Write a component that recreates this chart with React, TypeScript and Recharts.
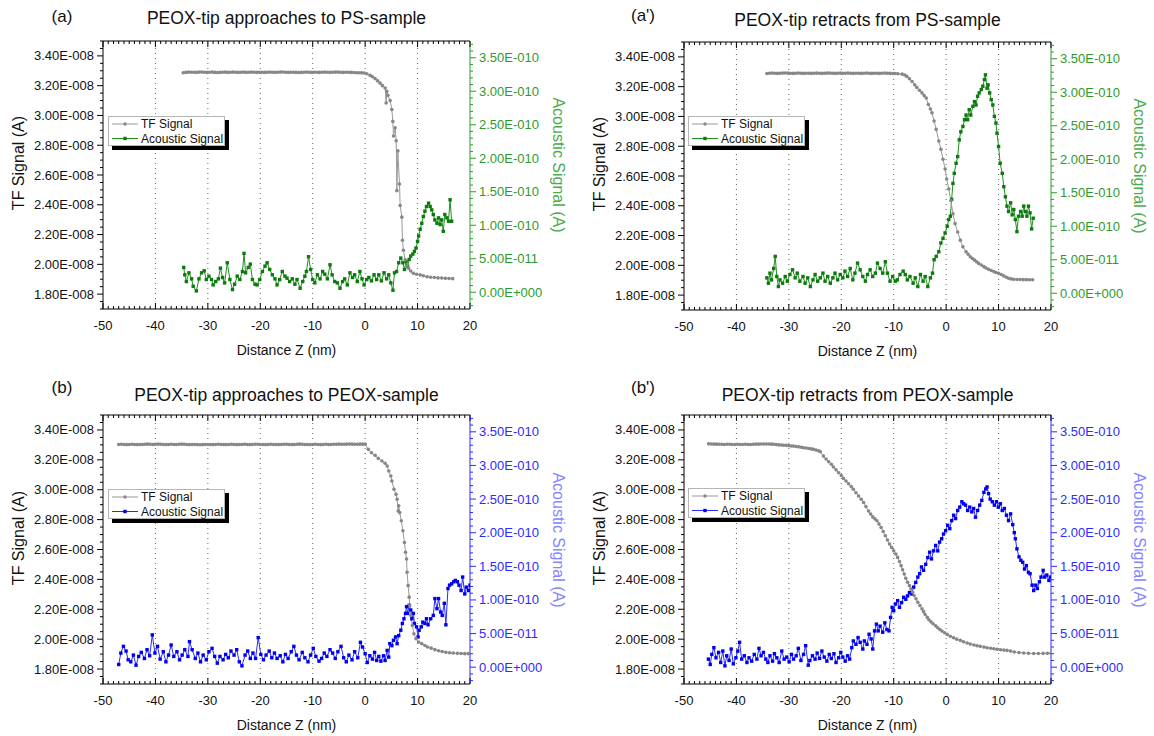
import { Line, LineChart, ReferenceLine, XAxis, YAxis } from 'recharts';

type Pt = [number, number];

const FONT = '"Liberation Sans", Arial, sans-serif';

// axis ticks (TF in 1E-8 A, acoustic in 1E-10 A)
const zMajor = [-50, -40, -30, -20, -10, 0, 10, 20];
const zGrid = [-40, -30, -20, -10, 0, 10];
const tfMajor = [1.8, 2.0, 2.2, 2.4, 2.6, 2.8, 3.0, 3.2, 3.4];
const acMajor = [0, 0.5, 1.0, 1.5, 2.0, 2.5, 3.0, 3.5];

const zTicks: number[] = [];
for (let i = -50; i <= 20; i++) zTicks.push(i);
const tfTicks: number[] = [];
for (let i = 34; i <= 70; i++) tfTicks.push(Math.round(i * 5) / 100);
const acTicks: number[] = [];
for (let i = -2; i <= 37; i++) acTicks.push(i / 10);

// (a) approach to PS
const tfA: Pt[] = [
  [-34.7,3.287],[-34.2,3.289],[-33.7,3.291],[-33.2,3.29],[-32.7,3.29],[-32.2,3.289],[-31.7,3.291],[-31.2,3.292],[-30.7,3.29],[-30.2,3.289],
  [-29.7,3.29],[-29.2,3.291],[-28.7,3.289],[-28.2,3.288],[-27.7,3.289],[-27.2,3.29],[-26.7,3.291],[-26.2,3.289],[-25.7,3.29],[-25.2,3.291],
  [-24.7,3.29],[-24.2,3.289],[-23.7,3.29],[-23.2,3.291],[-22.7,3.289],[-22.2,3.29],[-21.7,3.291],[-21.2,3.29],[-20.7,3.289],[-20.2,3.29],
  [-19.7,3.29],[-19.2,3.289],[-18.7,3.29],[-18.2,3.291],[-17.7,3.29],[-17.2,3.289],[-16.7,3.29],[-16.2,3.291],[-15.7,3.292],[-15.2,3.29],
  [-14.7,3.289],[-14.2,3.29],[-13.7,3.29],[-13.2,3.289],[-12.7,3.288],[-12.2,3.289],[-11.7,3.29],[-11.2,3.291],[-10.7,3.29],[-10.2,3.289],
  [-9.7,3.29],[-9.2,3.29],[-8.7,3.289],[-8.2,3.29],[-7.7,3.291],[-7.2,3.29],[-6.7,3.289],[-6.2,3.29],[-5.7,3.291],[-5.2,3.291],
  [-4.7,3.29],[-4.2,3.289],[-3.7,3.29],[-3.2,3.29],[-2.7,3.289],[-2.2,3.288],[-1.7,3.287],[-1.2,3.287],[-0.7,3.286],[-0.2,3.285],
  [0.3,3.28],[0.95,3.269],[1.4,3.26],[1.9,3.247],[2.4,3.232],[2.86,3.217],[3.3,3.2],[3.82,3.184],[4.0,3.084],[4.14,3.162],
  [4.33,3.135],[4.77,3.1],[5.09,3.04],[5.28,2.96],[5.41,2.862],[5.73,2.917],[5.92,2.83],[6.05,2.495],[6.24,2.762],[6.55,2.54],
  [6.68,2.395],[7.0,2.317],[7.12,2.162],[7.3,2.095],[7.63,2.03],[8.0,1.995],[8.27,1.973],[8.7,1.955],[9.2,1.94],[9.8,1.933],
  [10.5,1.929],[11.1,1.923],[11.8,1.917],[12.5,1.913],[13.2,1.912],[13.9,1.909],[14.6,1.908],[15.3,1.906],[16.0,1.905],[16.7,1.904],
];
const acA: Pt[] = [
  [-34.6,0.37],[-34.4,0.26],[-34.1,0.16],[-33.6,0.29],[-33.1,0.2],[-32.8,0.09],[-32.2,0.02],[-31.7,0.2],[-31.2,0.29],[-30.7,0.32],
  [-30.3,0.19],[-29.8,0.24],[-29.3,0.19],[-29.0,0.11],[-28.5,0.16],[-28.0,0.2],[-27.6,0.36],[-27.2,0.22],[-26.8,0.14],[-26.3,0.44],
  [-25.8,0.19],[-25.3,0.04],[-24.9,0.12],[-24.4,0.24],[-23.9,0.19],[-23.4,0.31],[-23.1,0.58],[-22.8,0.29],[-22.3,0.37],[-21.9,0.42],
  [-21.5,0.19],[-21.0,0.12],[-20.6,0.11],[-20.1,0.19],[-19.6,0.31],[-19.1,0.39],[-18.7,0.44],[-18.2,0.34],[-17.7,0.26],[-17.2,0.2],
  [-16.8,0.11],[-16.3,0.19],[-15.8,0.31],[-15.3,0.24],[-14.9,0.21],[-14.4,0.16],[-13.9,0.2],[-13.4,0.12],[-13.0,0.19],[-12.4,0.06],
  [-11.9,0.16],[-11.5,0.24],[-11.2,0.31],[-10.8,0.53],[-10.4,0.34],[-10.0,0.19],[-9.6,0.14],[-9.1,0.26],[-8.6,0.2],[-8.1,0.31],
  [-7.7,0.27],[-7.2,0.2],[-6.7,0.41],[-6.3,0.26],[-5.8,0.16],[-5.3,0.14],[-4.8,0.06],[-4.3,0.16],[-3.9,0.2],[-3.4,0.11],
  [-2.9,0.29],[-2.4,0.22],[-2.0,0.26],[-1.5,0.16],[-1.0,0.31],[-0.6,0.2],[-0.2,0.11],[0.3,0.19],[0.7,0.22],[1.2,0.17],
  [1.7,0.26],[2.2,0.19],[2.6,0.26],[3.1,0.17],[3.6,0.29],[4.1,0.2],[4.5,0.26],[4.9,0.14],[5.3,0.03],[5.6,0.29],
  [6.0,0.31],[6.4,0.44],[6.8,0.51],[7.2,0.44],[7.5,0.34],[7.8,0.46],[8.1,0.39],[8.4,0.49],[8.7,0.54],[9.1,0.57],
  [9.4,0.61],[9.7,0.66],[10.0,0.76],[10.2,0.84],[10.5,0.94],[10.8,1.03],[11.1,1.13],[11.4,1.21],[11.7,1.28],[12.1,1.33],
  [12.4,1.28],[12.7,1.23],[13.0,1.16],[13.3,1.08],[13.7,1.03],[14.0,1.11],[14.3,1.01],[14.6,1.08],[14.9,0.91],[15.2,1.16],
  [15.6,1.11],[15.9,1.06],[16.2,1.38],[16.5,1.06],
];

// (a') retract from PS
const tfA2: Pt[] = [
  [-34.2,3.288],[-33.7,3.29],[-33.2,3.291],[-32.7,3.29],[-32.2,3.289],[-31.7,3.29],[-31.2,3.291],[-30.7,3.292],[-30.2,3.291],[-29.7,3.29],
  [-29.2,3.289],[-28.7,3.29],[-28.2,3.291],[-27.7,3.29],[-27.2,3.289],[-26.7,3.29],[-26.2,3.29],[-25.7,3.289],[-25.2,3.29],[-24.7,3.291],
  [-24.2,3.29],[-23.7,3.289],[-23.2,3.29],[-22.7,3.291],[-22.2,3.291],[-21.7,3.29],[-21.2,3.289],[-20.7,3.29],[-20.2,3.291],[-19.7,3.29],
  [-19.2,3.29],[-18.7,3.291],[-18.2,3.29],[-17.7,3.289],[-17.2,3.29],[-16.7,3.29],[-16.2,3.289],[-15.7,3.29],[-15.2,3.291],[-14.7,3.29],
  [-14.2,3.289],[-13.7,3.29],[-13.2,3.29],[-12.7,3.289],[-12.2,3.29],[-11.7,3.291],[-11.2,3.29],[-10.7,3.289],[-10.2,3.288],[-9.7,3.288],
  [-9.2,3.287],[-8.4,3.284],[-7.9,3.278],[-7.5,3.269],[-7.0,3.253],[-6.5,3.235],[-6.0,3.213],[-5.6,3.195],[-5.1,3.176],[-4.6,3.158],
  [-4.2,3.14],[-3.8,3.124],[-3.4,3.08],[-3.0,3.05],[-2.7,3.024],[-2.3,2.969],[-1.9,2.913],[-1.4,2.835],[-1.0,2.78],[-0.6,2.713],
  [-0.2,2.647],[0.1,2.58],[0.5,2.513],[0.9,2.435],[1.3,2.346],[1.7,2.28],[2.2,2.224],[2.7,2.169],[3.2,2.124],[3.8,2.091],
  [4.2,2.074],[4.6,2.058],[5.0,2.046],[5.4,2.035],[5.8,2.024],[6.2,2.013],[6.7,2.002],[7.2,1.991],[7.6,1.982],[8.1,1.973],
  [8.6,1.965],[9.1,1.958],[9.5,1.952],[10.0,1.947],[10.5,1.938],[11.0,1.929],[11.5,1.92],[11.9,1.913],[12.4,1.909],[12.9,1.906],
  [13.5,1.905],[14.1,1.905],[14.7,1.904],[15.3,1.904],[15.9,1.903],[16.5,1.903],
];
const acA2: Pt[] = [
  [-34.2,0.23],[-33.9,0.15],[-33.6,0.3],[-33.3,0.2],[-32.9,0.37],[-32.6,0.55],[-32.3,0.25],[-32.0,0.1],[-31.7,0.2],[-31.2,0.15],
  [-30.7,0.25],[-30.3,0.18],[-29.8,0.28],[-29.3,0.35],[-28.8,0.23],[-28.4,0.3],[-27.9,0.18],[-27.3,0.25],[-26.9,0.15],[-26.4,0.23],
  [-25.9,0.1],[-25.4,0.2],[-25.0,0.28],[-24.5,0.18],[-24.0,0.23],[-23.5,0.3],[-23.1,0.18],[-22.6,0.25],[-22.1,0.15],[-21.6,0.23],
  [-21.2,0.3],[-20.7,0.2],[-20.2,0.28],[-19.7,0.23],[-19.3,0.33],[-18.8,0.25],[-18.3,0.37],[-17.8,0.2],[-17.4,0.3],[-16.9,0.45],
  [-16.4,0.35],[-15.9,0.25],[-15.4,0.18],[-15.0,0.28],[-14.5,0.35],[-14.0,0.25],[-13.5,0.3],[-13.1,0.45],[-12.6,0.37],[-12.1,0.3],
  [-11.6,0.47],[-11.2,0.3],[-10.7,0.18],[-10.2,0.25],[-9.7,0.18],[-9.3,0.2],[-8.8,0.28],[-8.2,0.33],[-7.8,0.28],[-7.4,0.2],
  [-6.9,0.25],[-6.3,0.15],[-5.9,0.23],[-5.4,0.1],[-4.9,0.28],[-4.4,0.18],[-4.0,0.25],[-3.5,0.1],[-3.0,0.23],[-2.6,0.3],
  [-2.3,0.5],[-1.9,0.55],[-1.4,0.62],[-1.0,0.75],[-0.6,0.82],[-0.2,0.9],[0.2,1.0],[0.5,1.1],[0.8,1.15],[1.05,1.4],
  [1.3,1.64],[1.55,1.79],[1.9,1.94],[2.2,2.04],[2.5,2.29],[2.8,2.41],[3.2,2.49],[3.5,2.59],[3.8,2.66],[4.1,2.59],
  [4.4,2.74],[4.7,2.66],[5.1,2.79],[5.4,2.86],[5.7,2.81],[6.0,2.94],[6.3,2.99],[6.7,3.04],[7.0,3.09],[7.3,3.19],
  [7.5,3.26],[7.8,3.06],[8.0,3.11],[8.3,2.99],[8.6,2.89],[8.9,2.81],[9.2,2.64],[9.5,2.54],[9.7,2.39],[10.0,2.19],
  [10.3,1.94],[10.7,1.79],[11.0,1.59],[11.3,1.44],[11.6,1.3],[11.9,1.22],[12.3,1.35],[12.6,1.17],[12.9,1.25],[13.2,1.1],
  [13.5,0.92],[13.8,1.15],[14.2,1.22],[14.5,1.15],[14.8,1.3],[15.1,1.22],[15.4,1.15],[15.7,1.3],[16.0,1.2],[16.3,0.96],
  [16.6,1.12],
];

// (b) approach to PEOX
const tfB: Pt[] = [
  [-47.0,3.303],[-46.5,3.304],[-46.0,3.303],[-45.5,3.302],[-45.0,3.303],[-44.5,3.304],[-44.0,3.303],[-43.5,3.302],[-43.0,3.303],[-42.5,3.303],
  [-42.0,3.304],[-41.5,3.305],[-41.0,3.304],[-40.5,3.303],[-40.0,3.304],[-39.5,3.305],[-39.0,3.304],[-38.5,3.303],[-38.0,3.302],[-37.5,3.303],
  [-37.0,3.304],[-36.5,3.303],[-36.0,3.303],[-35.5,3.304],[-35.0,3.305],[-34.5,3.304],[-34.0,3.303],[-33.5,3.302],[-33.0,3.303],[-32.5,3.303],
  [-32.0,3.302],[-31.5,3.301],[-31.0,3.302],[-30.5,3.303],[-30.0,3.303],[-29.5,3.302],[-29.0,3.302],[-28.5,3.303],[-28.0,3.304],[-27.5,3.303],
  [-27.0,3.303],[-26.5,3.302],[-26.0,3.303],[-25.5,3.304],[-25.0,3.303],[-24.5,3.302],[-24.0,3.303],[-23.5,3.303],[-23.0,3.304],[-22.5,3.303],
  [-22.0,3.302],[-21.5,3.303],[-21.0,3.304],[-20.5,3.304],[-20.0,3.303],[-19.5,3.303],[-19.0,3.302],[-18.5,3.303],[-18.0,3.304],[-17.5,3.303],
  [-17.0,3.303],[-16.5,3.302],[-16.0,3.303],[-15.5,3.304],[-15.0,3.304],[-14.5,3.303],[-14.0,3.302],[-13.5,3.303],[-13.0,3.304],[-12.5,3.305],
  [-12.0,3.304],[-11.5,3.303],[-11.0,3.303],[-10.5,3.302],[-10.0,3.303],[-9.5,3.304],[-9.0,3.303],[-8.5,3.302],[-8.0,3.303],[-7.5,3.304],
  [-7.0,3.303],[-6.5,3.303],[-6.0,3.304],[-5.5,3.304],[-5.0,3.305],[-4.5,3.304],[-4.0,3.304],[-3.5,3.305],[-3.0,3.306],[-2.5,3.305],
  [-2.0,3.304],[-1.5,3.304],[-1.0,3.305],[-0.5,3.305],[0.0,3.305],[0.6,3.27],[1.2,3.247],[1.9,3.23],[2.5,3.21],[3.2,3.192],
  [3.8,3.177],[4.2,3.159],[4.5,3.125],[4.9,3.092],[5.1,3.058],[5.5,3.003],[5.9,2.969],[6.1,2.936],[6.3,2.858],[6.4,2.892],
  [6.6,2.847],[6.9,2.792],[7.2,2.725],[7.5,2.647],[7.7,2.581],[7.9,2.536],[8.0,2.447],[8.2,2.358],[8.4,2.281],[8.5,2.225],
  [8.7,2.158],[9.0,2.092],[9.3,2.036],[9.7,2.003],[10.2,1.981],[10.8,1.97],[11.4,1.958],[11.9,1.948],[12.6,1.94],[13.3,1.93],
  [14.0,1.922],[14.7,1.917],[15.4,1.912],[16.1,1.909],[16.8,1.907],[17.6,1.905],[18.3,1.904],[19.0,1.903],[19.7,1.903],
];
const acB: Pt[] = [
  [-47.0,0.04],[-46.6,0.21],[-46.1,0.31],[-45.6,0.24],[-45.2,0.11],[-44.7,0.08],[-44.2,0.18],[-43.7,0.03],[-43.2,0.16],[-42.7,0.22],
  [-42.1,0.13],[-41.6,0.26],[-41.1,0.17],[-40.6,0.48],[-40.1,0.21],[-39.6,0.31],[-39.1,0.12],[-38.5,0.23],[-38.0,0.08],[-37.5,0.18],
  [-37.0,0.33],[-36.5,0.16],[-35.9,0.23],[-35.4,0.11],[-34.9,0.18],[-34.4,0.26],[-33.8,0.16],[-33.5,0.38],[-33.0,0.26],[-32.4,0.13],
  [-31.9,0.21],[-31.4,0.08],[-30.9,0.18],[-30.3,0.11],[-29.8,0.23],[-29.2,0.28],[-28.7,0.16],[-28.2,0.06],[-27.7,0.16],[-27.1,0.11],
  [-26.6,0.19],[-26.1,0.14],[-25.6,0.24],[-25.0,0.18],[-24.5,0.26],[-24.0,0.08],[-23.5,0.02],[-22.9,0.18],[-22.4,0.24],[-21.9,0.13],
  [-21.4,0.21],[-20.9,0.13],[-20.4,0.44],[-19.9,0.19],[-19.4,0.11],[-18.9,0.18],[-18.3,0.24],[-17.8,0.14],[-17.3,0.21],[-16.8,0.13],
  [-16.2,0.17],[-15.7,0.08],[-15.2,0.19],[-14.7,0.13],[-14.1,0.23],[-13.6,0.31],[-13.1,0.18],[-12.6,0.11],[-12.0,0.22],[-11.5,0.14],
  [-10.9,0.08],[-10.4,0.18],[-9.9,0.28],[-9.4,0.16],[-8.8,0.09],[-8.3,0.13],[-7.8,0.21],[-7.3,0.16],[-6.7,0.26],[-6.2,0.21],
  [-5.7,0.13],[-5.2,0.23],[-4.6,0.31],[-4.1,0.14],[-3.6,0.08],[-3.1,0.18],[-2.5,0.11],[-2.0,0.23],[-1.4,0.14],[-0.9,0.37],
  [-0.5,0.3],[0.0,0.2],[0.4,0.07],[0.9,0.17],[1.4,0.12],[1.8,0.22],[2.2,0.1],[2.6,0.16],[3.0,0.09],[3.5,0.17],
  [3.8,0.1],[4.2,0.25],[4.5,0.15],[4.7,0.35],[5.1,0.32],[5.4,0.4],[5.8,0.45],[6.1,0.35],[6.4,0.47],[6.8,0.55],
  [7.1,0.65],[7.4,0.72],[7.7,0.8],[7.9,0.9],[8.1,0.8],[8.4,0.92],[8.7,0.85],[8.9,0.72],[9.2,0.8],[9.4,0.65],
  [9.8,0.6],[10.1,0.45],[10.3,0.55],[10.7,0.6],[11.0,0.67],[11.4,0.65],[11.7,0.72],[12.0,0.63],[12.5,0.72],[13.0,0.77],
  [13.3,1.02],[13.7,0.87],[14.0,1.02],[14.4,0.82],[14.7,0.77],[15.1,0.95],[15.4,0.63],[15.8,1.17],[16.1,1.22],[16.5,1.24],
  [16.9,1.27],[17.2,1.29],[17.6,1.27],[17.9,1.22],[18.3,1.14],[18.6,1.34],[19.0,1.09],[19.3,1.19],[19.7,1.14],[20.0,1.22],
];

// (b') retract from PEOX
const tfB2: Pt[] = [
  [-45.3,3.307],[-44.8,3.306],[-44.3,3.305],[-43.8,3.305],[-43.3,3.304],[-42.8,3.304],[-42.3,3.303],[-41.8,3.304],[-41.3,3.304],[-40.8,3.303],
  [-40.3,3.303],[-39.8,3.304],[-39.3,3.303],[-38.8,3.303],[-38.3,3.304],[-37.8,3.303],[-37.3,3.303],[-36.8,3.304],[-36.3,3.305],[-35.8,3.305],
  [-35.3,3.306],[-34.8,3.306],[-34.3,3.306],[-33.8,3.306],[-33.3,3.305],[-32.9,3.304],[-32.4,3.302],[-31.9,3.3],[-31.4,3.299],[-31.0,3.298],
  [-30.5,3.297],[-30.0,3.295],[-29.5,3.293],[-29.1,3.292],[-28.6,3.289],[-28.1,3.287],[-27.6,3.284],[-27.2,3.281],[-26.7,3.279],[-26.2,3.276],
  [-25.7,3.273],[-25.3,3.27],[-24.8,3.265],[-24.3,3.26],[-24.0,3.254],[-23.4,3.225],[-22.9,3.206],[-22.4,3.187],[-21.9,3.17],[-21.5,3.152],
  [-21.0,3.133],[-20.5,3.114],[-20.0,3.095],[-19.6,3.076],[-19.1,3.058],[-18.6,3.04],[-18.1,3.021],[-17.7,3.003],[-17.2,2.98],[-16.7,2.958],
  [-16.2,2.936],[-15.75,2.914],[-15.3,2.887],[-14.8,2.858],[-14.4,2.838],[-14.0,2.818],[-13.6,2.805],[-13.2,2.792],[-12.8,2.77],[-12.4,2.747],
  [-12.0,2.72],[-11.6,2.692],[-11.2,2.664],[-10.8,2.636],[-10.4,2.614],[-10.0,2.592],[-9.6,2.57],[-9.25,2.547],[-8.9,2.52],[-8.6,2.492],
  [-8.3,2.464],[-8.0,2.436],[-7.7,2.408],[-7.35,2.381],[-7.0,2.358],[-6.7,2.336],[-6.4,2.314],[-6.1,2.292],[-5.75,2.27],[-5.4,2.247],
  [-5.0,2.225],[-4.6,2.203],[-4.3,2.184],[-4.0,2.165],[-3.6,2.147],[-3.3,2.13],[-2.9,2.116],[-2.5,2.103],[-2.0,2.089],[-1.6,2.076],
  [-1.2,2.065],[-0.8,2.054],[-0.3,2.043],[0.2,2.032],[0.8,2.02],[1.4,2.009],[2.0,2.0],[2.7,1.992],[3.3,1.983],[4.0,1.974],
  [4.6,1.967],[5.3,1.961],[5.9,1.956],[6.5,1.952],[7.2,1.947],[7.8,1.943],[8.5,1.939],[9.1,1.936],[9.7,1.932],[10.35,1.929],
  [11.0,1.927],[11.6,1.925],[12.3,1.92],[13.0,1.914],[13.9,1.91],[14.8,1.907],[15.7,1.905],[16.7,1.904],[17.6,1.904],[18.5,1.905],
  [19.3,1.905],[20.0,1.905],
];
const acB2: Pt[] = [
  [-45.35,0.12],[-45.0,0.04],[-44.7,0.19],[-44.3,0.29],[-43.9,0.14],[-43.4,0.22],[-43.0,0.07],[-42.6,0.24],[-42.2,0.02],[-41.85,0.17],
  [-41.4,0.1],[-41.0,0.27],[-40.6,0.05],[-40.1,0.14],[-39.75,0.24],[-39.4,0.37],[-39.0,0.12],[-38.5,0.17],[-38.0,0.07],[-37.6,0.14],
  [-37.1,0.09],[-36.6,0.19],[-36.1,0.12],[-35.7,0.28],[-35.3,0.17],[-34.85,0.22],[-34.4,0.12],[-34.0,0.07],[-33.6,0.17],[-33.1,0.09],
  [-32.75,0.2],[-32.3,0.14],[-31.85,0.07],[-31.35,0.24],[-30.9,0.12],[-30.4,0.15],[-29.95,0.08],[-29.5,0.19],[-29.1,0.12],[-28.6,0.17],
  [-28.2,0.28],[-27.7,0.1],[-27.2,0.19],[-26.8,0.32],[-26.3,0.03],[-26.0,0.1],[-25.5,0.17],[-25.0,0.12],[-24.6,0.21],[-24.15,0.13],
  [-23.7,0.24],[-23.25,0.15],[-22.75,0.09],[-22.3,0.19],[-21.9,0.13],[-21.4,0.2],[-21.0,0.07],[-20.5,0.14],[-20.1,0.22],[-19.7,0.15],
  [-19.25,0.09],[-18.8,0.17],[-18.4,0.12],[-18.0,0.29],[-17.7,0.39],[-17.2,0.34],[-16.8,0.44],[-16.4,0.37],[-15.9,0.27],[-15.6,0.39],
  [-15.1,0.34],[-14.7,0.49],[-14.3,0.42],[-14.0,0.27],[-13.65,0.54],[-13.3,0.64],[-12.95,0.54],[-12.6,0.61],[-12.1,0.52],[-11.7,0.66],
  [-11.3,0.56],[-10.9,0.54],[-10.6,0.74],[-10.3,0.89],[-10.0,0.84],[-9.65,0.94],[-9.25,0.99],[-8.9,0.89],[-8.5,0.96],[-8.1,1.04],
  [-7.7,1.01],[-7.35,1.06],[-7.0,1.11],[-6.6,1.09],[-6.2,1.19],[-5.8,1.26],[-5.4,1.34],[-5.05,1.39],[-4.7,1.49],[-4.3,1.44],
  [-3.9,1.53],[-3.5,1.63],[-3.15,1.71],[-2.8,1.61],[-2.4,1.73],[-2.0,1.81],[-1.6,1.73],[-1.25,1.86],[-0.85,1.91],[-0.5,1.98],
  [-0.1,2.03],[0.3,2.11],[0.7,2.06],[1.05,2.18],[1.45,2.26],[1.8,2.21],[2.2,2.33],[2.6,2.38],[3.0,2.46],[3.35,2.43],
  [3.7,2.41],[4.1,2.33],[4.5,2.38],[4.9,2.31],[5.25,2.36],[5.6,2.23],[6.0,2.33],[6.4,2.41],[6.8,2.48],[7.2,2.6],
  [7.55,2.65],[7.8,2.68],[8.1,2.58],[8.4,2.5],[8.8,2.46],[9.2,2.41],[9.6,2.46],[9.95,2.38],[10.35,2.43],[10.7,2.33],
  [11.1,2.36],[11.5,2.26],[11.9,2.18],[12.3,2.28],[12.7,2.12],[13.0,2.0],[13.2,1.91],[13.5,1.76],[13.9,1.64],[14.25,1.59],
  [14.6,1.56],[14.95,1.46],[15.3,1.51],[15.7,1.41],[16.0,1.39],[16.4,1.22],[16.7,1.14],[17.1,1.22],[17.4,1.17],[17.8,1.27],
  [18.1,1.34],[18.5,1.44],[18.8,1.34],[19.2,1.37],[19.6,1.29],[19.9,1.34],
];

const toPts = (a: Pt[]) => a.map(([z, v]) => ({ z, v }));

const sci = (x: number) => {
  if (Math.abs(x) < 1e-20) return '0.00E+000';
  const e = Math.floor(Math.log10(Math.abs(x)) + 1e-9);
  const m = x / Math.pow(10, e);
  return `${m.toFixed(2)}E${e < 0 ? '-' : '+'}${String(Math.abs(e)).padStart(3, '0')}`;
};
const isMajor = (list: number[], v: number) => list.some((m) => Math.abs(m - v) < 1e-6);

const bottomTick = (p: any) => {
  const v = p.payload.value;
  const major = isMajor(zMajor, v);
  return (
    <g>
      <line x1={p.x} x2={p.x} y1={p.y} y2={p.y - (major ? 6 : 3)} stroke="#000" />
      {major && (
        <text x={p.x} y={p.y + 21} textAnchor="middle" fontSize={13} fontFamily={FONT} fill="#111">
          {v}
        </text>
      )}
    </g>
  );
};

const topTick = (p: any) => {
  const major = isMajor(zMajor, p.payload.value);
  return <line x1={p.x} x2={p.x} y1={p.y} y2={p.y + (major ? 6 : 3)} stroke="#000" />;
};

const leftTick = (p: any) => {
  const v = p.payload.value;
  const major = isMajor(tfMajor, v);
  return (
    <g>
      <line x1={p.x} x2={p.x - (major ? 6 : 3)} y1={p.y} y2={p.y} stroke="#000" />
      {major && (
        <text x={p.x - 9} y={p.y + 4.5} textAnchor="end" fontSize={13} fontFamily={FONT} fill="#111">
          {sci(v * 1e-8)}
        </text>
      )}
    </g>
  );
};

const rightTick = (color: string) => (p: any) => {
  const v = p.payload.value;
  const major = isMajor(acMajor, v);
  return (
    <g>
      <line x1={p.x} x2={p.x + (major ? 6 : 3)} y1={p.y} y2={p.y} stroke={color} />
      {major && (
        <text x={p.x + 9} y={p.y + 4.5} textAnchor="start" fontSize={13} fontFamily={FONT} fill={color}>
          {sci(v * 1e-10)}
        </text>
      )}
    </g>
  );
};

const squareDot = (color: string) => (p: any) => (
  <rect key={`s${p.index}`} x={p.cx - 1.7} y={p.cy - 1.7} width={3.4} height={3.4} fill={color} />
);

type Cfg = {
  ox: number; oy: number; pl: number; pr: number; pt: number; pb: number;
  letter: string; title: string; letterY: number; titleY: number;
  legX: number; legY: number;
  tf: Pt[]; ac: Pt[];
  acLine: string; acDot: string; axisColor: string; labelColor: string;
};

const GREEN = { acLine: '#1f8f1f', acDot: '#0c7a0c', axisColor: '#2e9a2e', labelColor: '#4daa4d' };
const BLUE = { acLine: '#2a2aff', acDot: '#0000ee', axisColor: '#2b2bff', labelColor: '#8585ff' };

const panels: Cfg[] = [
  { ox: 0, oy: 0, pl: 103, pr: 470, pt: 41, pb: 309, letter: '(a)', title: 'PEOX-tip approaches to PS-sample',
    letterY: 16, titleY: 19, legX: 108, legY: 116, tf: tfA, ac: acA, ...GREEN },
  { ox: 577, oy: 0, pl: 107, pr: 474, pt: 42, pb: 310, letter: "(a')", title: 'PEOX-tip retracts from PS-sample',
    letterY: 15, titleY: 21, legX: 111, legY: 116, tf: tfA2, ac: acA2, ...GREEN },
  { ox: 0, oy: 368, pl: 103, pr: 470, pt: 47, pb: 316, letter: '(b)', title: 'PEOX-tip approaches to PEOX-sample',
    letterY: 19, titleY: 28, legX: 108, legY: 121, tf: tfB, ac: acB, ...BLUE },
  { ox: 577, oy: 368, pl: 107, pr: 474, pt: 47, pb: 316, letter: "(b')", title: 'PEOX-tip retracts from PEOX-sample',
    letterY: 19, titleY: 28, legX: 111, legY: 120, tf: tfB2, ac: acB2, ...BLUE },
];

const centered = (x: number, y: number, size: number): React.CSSProperties => ({
  position: 'absolute',
  left: x,
  top: y,
  transform: 'translate(-50%, -50%)',
  whiteSpace: 'nowrap',
  fontSize: size,
  lineHeight: 1,
  fontFamily: FONT,
  color: '#111',
});

function Key({ cfg }: { cfg: Cfg }) {
  return (
    <div
      style={{
        position: 'absolute', left: cfg.legX, top: cfg.legY, width: 117, height: 30,
        background: '#fff', border: '1px solid #b5b5b5', boxShadow: '4px 4px 0 #000',
        boxSizing: 'border-box', fontFamily: FONT, fontSize: 12, color: '#111',
      }}
    >
      <svg width={30} height={30} style={{ position: 'absolute', left: 1, top: 0 }}>
        <line x1={2} x2={28} y1={7} y2={7} stroke="#999" />
        <circle cx={15} cy={7} r={1.7} fill="#888" />
        <line x1={2} x2={28} y1={21.5} y2={21.5} stroke={cfg.acLine} />
        <rect x={13.3} y={19.8} width={3.4} height={3.4} fill={cfg.acDot} />
      </svg>
      <div style={{ position: 'absolute', left: 32, top: 1, lineHeight: '12px' }}>TF Signal</div>
      <div style={{ position: 'absolute', left: 32, top: 15.5, lineHeight: '12px' }}>Acoustic Signal</div>
    </div>
  );
}

function Panel({ cfg }: { cfg: Cfg }) {
  const midX = (cfg.pl + cfg.pr) / 2;
  const midY = (cfg.pt + cfg.pb) / 2;
  return (
    <div style={{ position: 'absolute', left: cfg.ox, top: cfg.oy, width: 577, height: 368 }}>
      <LineChart width={577} height={368} margin={{ top: 0, right: 0, bottom: 0, left: 0 }}>
        <XAxis xAxisId="b" type="number" dataKey="z" domain={[-50, 20]} ticks={zTicks} interval={0}
          tickSize={0} tickMargin={0} tickLine={false} tick={bottomTick} axisLine={{ stroke: '#000' }}
          height={368 - cfg.pb} allowDataOverflow />
        <XAxis xAxisId="t" orientation="top" type="number" dataKey="z" domain={[-50, 20]} ticks={zTicks} interval={0}
          tickSize={0} tickMargin={0} tickLine={false} tick={topTick} axisLine={{ stroke: '#000' }}
          height={cfg.pt} allowDataOverflow />
        <YAxis yAxisId="l" type="number" domain={[1.7, 3.5]} ticks={tfTicks} interval={0}
          tickSize={0} tickMargin={0} tickLine={false} tick={leftTick} axisLine={{ stroke: '#000' }}
          width={cfg.pl} allowDataOverflow />
        <YAxis yAxisId="r" orientation="right" type="number" domain={[-0.25, 3.75]} ticks={acTicks} interval={0}
          tickSize={0} tickMargin={0} tickLine={false} tick={rightTick(cfg.axisColor)} axisLine={{ stroke: cfg.axisColor }}
          width={577 - cfg.pr} allowDataOverflow />
        {zGrid.map((z) => (
          <ReferenceLine key={z} xAxisId="b" yAxisId="l" x={z} stroke="#666" strokeDasharray="1 4" />
        ))}
        <Line xAxisId="t" yAxisId="r" data={toPts(cfg.ac)} dataKey="v" type="linear" stroke={cfg.acLine}
          strokeWidth={1} dot={squareDot(cfg.acDot)} activeDot={false} isAnimationActive={false} />
        <Line xAxisId="b" yAxisId="l" data={toPts(cfg.tf)} dataKey="v" type="linear" stroke="#9a9a9a"
          strokeWidth={1} dot={{ r: 1.8, fill: '#878787', stroke: 'none' }} activeDot={false} isAnimationActive={false} />
      </LineChart>
      <div style={centered(cfg.pl - 41, cfg.letterY, 17)}>{cfg.letter}</div>
      <div style={centered(midX, cfg.titleY, 17.5)}>{cfg.title}</div>
      <div style={centered(midX, cfg.pb + 41, 14)}>Distance Z (nm)</div>
      <div style={{ ...centered(cfg.pl - 84, midY - 12, 16), transform: 'translate(-50%, -50%) rotate(-90deg)' }}>
        TF Signal (A)
      </div>
      <div style={{ ...centered(cfg.pr + 88, midY - 10, 16), color: cfg.labelColor, transform: 'translate(-50%, -50%) rotate(90deg)' }}>
        Acoustic Signal (A)
      </div>
      <Key cfg={cfg} />
    </div>
  );
}

export default function App() {
  return (
    <div style={{ position: 'absolute', left: 0, top: 0, width: 1154, height: 736, background: '#fff', overflow: 'hidden' }}>
      {panels.map((cfg) => (
        <Panel key={cfg.letter} cfg={cfg} />
      ))}
    </div>
  );
}
